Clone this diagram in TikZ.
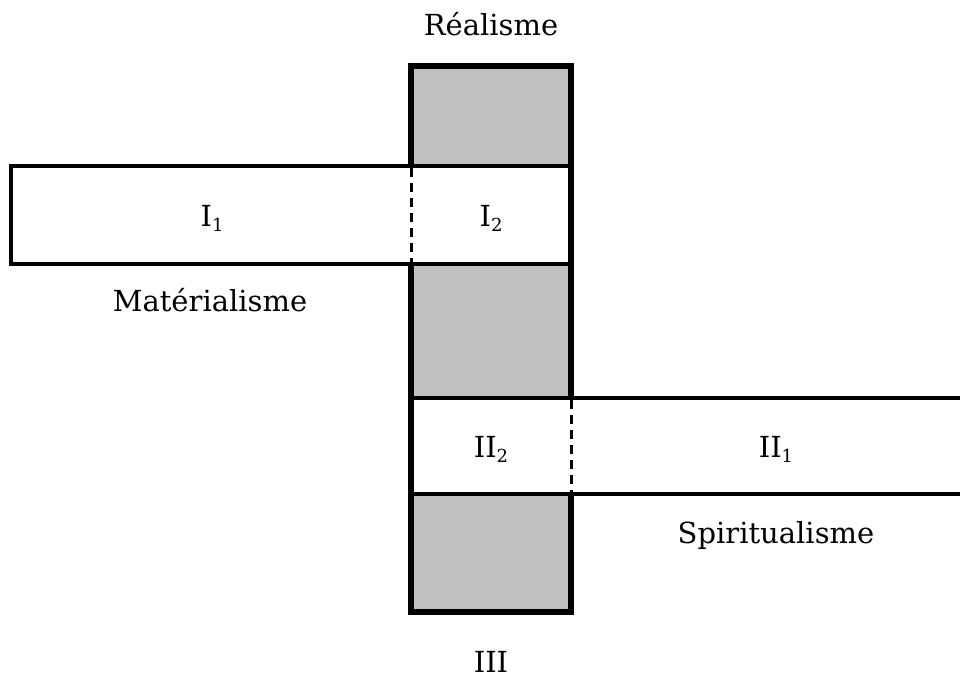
\documentclass[tikz,border=0pt]{standalone}
\usepackage{fontspec}
\setmainfont{DejaVu Serif}
\newcommand{\lowidx}[1]{\raisebox{-0.18em}{\fontsize{18}{18}\selectfont #1}}
\definecolor{hatch}{RGB}{192,192,192}
\begin{document}
\begin{tikzpicture}[x=1pt,y=-1pt,
  lbl/.style={font=\fontsize{29}{32}\selectfont, inner sep=0pt, anchor=base},
  barline/.style={line width=6pt},
  boxline/.style={line width=4pt},
  dashline/.style={line width=3pt, dash pattern=on 9pt off 6pt}]
\useasboundingbox (0,0) rectangle (960,679);
% bar fill
\fill[hatch] (411,66) rectangle (571,612);
% box fills
\fill[white] (11,166) rectangle (571,264);
\fill[white] (411,398) rectangle (962,494);
% box I
\draw[boxline] (571,166) -- (11,166) -- (11,264) -- (571,264);
\draw[dashline] (411,168) -- (411,262);
% box II
\draw[boxline] (962,398) -- (411,398);
\draw[boxline] (962,494) -- (411,494);
\draw[dashline] (571,400) -- (571,492);
% bar outline
\draw[barline] (411,166) -- (411,66) -- (571,66) -- (571,398);
\draw[barline] (411,264) -- (411,612) -- (571,612) -- (571,494);
% labels
\node[lbl] (real) at (491,36) {Réalisme};
\node[lbl] (i1) at (212,226) {I\lowidx{1}};
\node[lbl] (i2) at (491,226) {I\lowidx{2}};
\node[lbl] (mat) at (210,311) {Matérialisme};
\node[lbl] (ii2) at (491,457) {II\lowidx{2}};
\node[lbl] (ii1) at (776,457) {II\lowidx{1}};
\node[lbl] (spi) at (776,543) {Spiritualisme};
\node[lbl] (iii) at (491,672) {III};
\end{tikzpicture}
\end{document}
